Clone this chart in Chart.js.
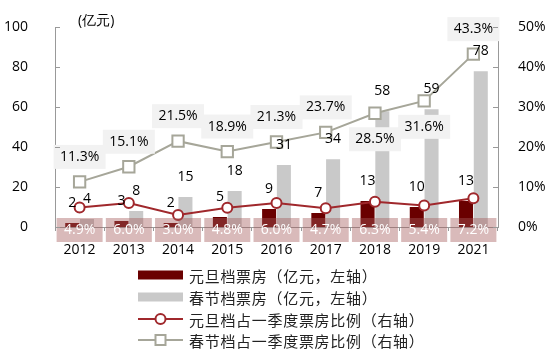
<!DOCTYPE html>
<html>
<head>
<meta charset="utf-8">
<script src="https://cdn.jsdelivr.net/npm/chart.js@4/dist/chart.umd.min.js"></script>
<style>
html,body{margin:0;padding:0;background:#fff;}
#wrap{width:550px;height:351px;position:relative;}
</style>
</head>
<body>
<div id="wrap"><canvas id="c" width="550" height="351"></canvas></div>
<script>
const categories = ['2012','2013','2014','2015','2016','2017','2018','2019','2021'];
const yuandanBox = [2, 3, 2, 5, 9, 7, 13, 10, 13];
const chunjieBox = [4, 8, 15, 18, 31, 34, 58, 59, 78];
const yuandanRatio = [4.9, 6.0, 3.0, 4.8, 6.0, 4.7, 6.3, 5.4, 7.2];
const chunjieRatio = [11.3, 15.1, 21.5, 18.9, 21.3, 23.7, 28.5, 31.6, 43.3];
const leftTicks = [0, 20, 40, 60, 80, 100];
const rightTicks = [0, 10, 20, 30, 40, 50];
const seriesNames = ['元旦档票房（亿元，左轴）','春节档票房（亿元，左轴）','元旦档占一季度票房比例（右轴）','春节档占一季度票房比例（右轴）'];
const unitLabel = '(亿元)';

const DARK = '#6a0000', GRAY = '#c9c9c9', RED = '#a0282c', GLINE = '#a6a699';
const NUMFONT = '14px "Open Sans", "Liberation Sans", sans-serif';
const CJKFONT = '15px "Noto Sans CJK SC", sans-serif';
const grayBelow = new Set([6, 7]);

const labelPlugin = {
  id: 'labels',
  afterDatasetsDraw(chart) {
    const ctx = chart.ctx;
    const area = chart.chartArea;
    ctx.save();
    ctx.font = NUMFONT;
    ctx.textAlign = 'center';
    ctx.textBaseline = 'middle';
    // bar value labels
    [0, 1].forEach(di => {
      const meta = chart.getDatasetMeta(di);
      meta.data.forEach((el, i) => {
        ctx.fillStyle = '#000';
        ctx.fillText(String(chart.data.datasets[di].data[i]), el.x, el.y - 20);
      });
    });
    // yuandan ratio labels (bottom, pink boxes)
    const m2 = chart.getDatasetMeta(2);
    m2.data.forEach((el, i) => {
      const cy = area.bottom + 3;
      ctx.fillStyle = 'rgba(165,90,90,0.42)';
      ctx.fillRect(el.x - 23, cy - 12, 46, 24);
      ctx.fillStyle = '#fff';
      ctx.fillText(yuandanRatio[i].toFixed(1) + '%', el.x, cy);
    });
    // chunjie ratio labels
    const m3 = chart.getDatasetMeta(3);
    m3.data.forEach((el, i) => {
      const cy = grayBelow.has(i) ? el.y + 26 : el.y - 25;
      ctx.fillStyle = '#f2f2f2';
      ctx.fillRect(el.x - 26, cy - 12, 52, 24);
      ctx.fillStyle = '#000';
      ctx.fillText(chunjieRatio[i].toFixed(1) + '%', el.x, cy);
    });
    ctx.restore();
  },
  afterDraw(chart) {
    const ctx = chart.ctx;
    ctx.save();
    // inward ticks on y axes
    ctx.strokeStyle = '#999';
    ctx.lineWidth = 1;
    const sy = chart.scales.y, sy1 = chart.scales.y1;
    leftTicks.forEach(v => {
      const p = Math.round(sy.getPixelForValue(v)) + 0.5;
      ctx.beginPath(); ctx.moveTo(sy.right, p); ctx.lineTo(sy.right + 5, p); ctx.stroke();
    });
    rightTicks.forEach(v => {
      const p = Math.round(sy1.getPixelForValue(v)) + 0.5;
      ctx.beginPath(); ctx.moveTo(sy1.left, p); ctx.lineTo(sy1.left - 5, p); ctx.stroke();
    });
    // unit label
    ctx.font = NUMFONT;
    ctx.fillStyle = '#000';
    ctx.textAlign = 'left';
    ctx.textBaseline = 'middle';
    ctx.fillText(unitLabel, 78, 21);
    // legend
    const x0 = 138, x1 = 183, tx = 189;
    const rows = [275, 297, 319, 340];
    ctx.font = CJKFONT;
    try { ctx.letterSpacing = '0.7px'; } catch (e) {}
    rows.forEach((y, i) => {
      if (i === 0 || i === 1) {
        ctx.fillStyle = i === 0 ? DARK : GRAY;
        ctx.fillRect(x0, y - 4.5, x1 - x0, 9);
      } else {
        const col = i === 2 ? RED : GLINE;
        ctx.strokeStyle = col;
        ctx.lineWidth = 2;
        ctx.beginPath(); ctx.moveTo(x0, y); ctx.lineTo(x1, y); ctx.stroke();
        ctx.fillStyle = '#fff';
        const cx = (x0 + x1) / 2;
        ctx.beginPath();
        if (i === 2) { ctx.arc(cx, y, 5, 0, Math.PI * 2); }
        else { ctx.rect(cx - 5, y - 5, 10, 10); }
        ctx.fill(); ctx.stroke();
      }
      ctx.fillStyle = '#222';
      ctx.fillText(seriesNames[i], tx, y + 1);
    });
    ctx.restore();
  }
};

new Chart(document.getElementById('c'), {
  data: {
    labels: categories,
    datasets: [
      { type: 'bar', label: seriesNames[0], data: yuandanBox, backgroundColor: DARK, yAxisID: 'y', order: 2, categoryPercentage: 0.6, barPercentage: 0.95 },
      { type: 'bar', label: seriesNames[1], data: chunjieBox, backgroundColor: GRAY, yAxisID: 'y', order: 2, categoryPercentage: 0.6, barPercentage: 0.95 },
      { type: 'line', label: seriesNames[2], data: yuandanRatio, yAxisID: 'y1', order: 1, borderColor: RED, borderWidth: 2, pointStyle: 'circle', pointRadius: 5, pointBorderWidth: 2, pointBackgroundColor: '#fff', pointBorderColor: RED, tension: 0 },
      { type: 'line', label: seriesNames[3], data: chunjieRatio, yAxisID: 'y1', order: 1, borderColor: GLINE, borderWidth: 2, pointStyle: 'rect', pointRadius: 8, pointBorderWidth: 2, pointBackgroundColor: '#fff', pointBorderColor: GLINE, tension: 0 }
    ]
  },
  options: {
    responsive: false,
    animation: false,
    devicePixelRatio: 1,
    layout: { padding: { top: 13, left: 0, right: 0, bottom: 0 } },
    plugins: { legend: { display: false }, tooltip: { enabled: false } },
    scales: {
      x: {
        offset: true,
        grid: { display: true, drawOnChartArea: false, drawTicks: true, tickLength: 4, color: '#999', offset: true },
        border: { display: true, color: '#999', width: 1 },
        ticks: { color: '#000', font: { family: '"Open Sans", "Liberation Sans", sans-serif', size: 14 }, padding: 11, maxRotation: 0 },
        afterFit(s) { s.height = 124; }
      },
      y: {
        position: 'left', min: 0, max: 100,
        afterBuildTicks(s) { s.ticks = leftTicks.map(v => ({ value: v })); },
        grid: { display: false },
        border: { display: true, color: '#999', width: 1 },
        ticks: { color: '#000', font: { family: '"Open Sans", "Liberation Sans", sans-serif', size: 14 }, padding: 19 },
        afterFit(s) { s.width = 55; }
      },
      y1: {
        position: 'right', min: 0, max: 50,
        afterBuildTicks(s) { s.ticks = rightTicks.map(v => ({ value: v })); },
        grid: { display: false },
        border: { display: true, color: '#999', width: 1 },
        ticks: { color: '#000', font: { family: '"Open Sans", "Liberation Sans", sans-serif', size: 14 }, padding: 12, callback: v => v + '%' },
        afterFit(s) { s.width = 52; }
      }
    }
  },
  plugins: [labelPlugin]
});
</script>
</body>
</html>
